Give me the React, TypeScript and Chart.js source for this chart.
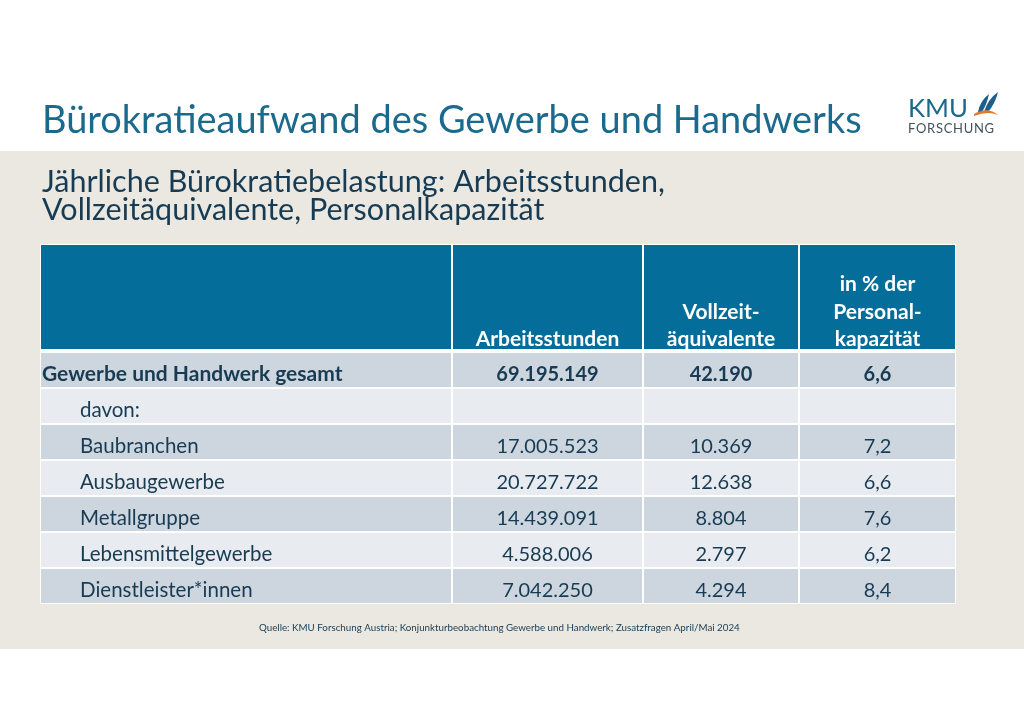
import React, { useEffect, useRef } from 'react';
import { Chart, registerables } from 'chart.js';

Chart.register(...registerables);

// ---------- data ----------
const pageTitle = 'Bürokratieaufwand des Gewerbe und Handwerks';
const subtitleLines = ['Jährliche Bürokratiebelastung: Arbeitsstunden,', 'Vollzeitäquivalente, Personalkapazität'];
const sourceNote =
  'Quelle: KMU Forschung Austria; Konjunkturbeobachtung Gewerbe und Handwerk; Zusatzfragen April/Mai 2024';
const logoWord = 'KMU';
const logoSubWord = 'FORSCHUNG';

const columnHeaders: string[][] = [[], ['Arbeitsstunden'], ['Vollzeit-', 'äquivalente'], ['in % der', 'Personal-', 'kapazität']];
const rowLabels = [
  'Gewerbe und Handwerk gesamt',
  'davon:',
  'Baubranchen',
  'Ausbaugewerbe',
  'Metallgruppe',
  'Lebensmittelgewerbe',
  'Dienstleister*innen',
];
const arbeitsstunden = [69195149, null, 17005523, 20727722, 14439091, 4588006, 7042250];
const vollzeitaequivalente = [42190, null, 10369, 12638, 8804, 2797, 4294];
const personalkapazitaetPct = [6.6, null, 7.2, 6.6, 7.6, 6.2, 8.4];
const totalRowIndex = 0;

// ---------- layout / style ----------
const W = 1024;
const H = 724;
const TABLE = { left: 40, top: 244, right: 956, bottom: 604 };
const colEdges = [0, 412, 603, 759, 916];
const HEADER_SLOTS = 3;
const FONT = 'Lato';
const C = {
  band: '#ebe8e1',
  title: '#1b6a8e',
  text: '#173b52',
  header: '#056d9a',
  dark: '#cdd5df',
  light: '#e8ebf0',
  white: '#ffffff',
  logoGrey: '#44525c',
  logoBlue: '#1d5f8c',
  orange: '#e07b2c',
};

const fmtInt = (n: number) => String(n).replace(/\B(?=(\d{3})+(?!\d))/g, '.');
const fmtPct = (n: number) => n.toFixed(1).replace('.', ',');

function fitFont(ctx: CanvasRenderingContext2D, text: string, weight: string, target: number) {
  ctx.font = `${weight} 100px ${FONT}`;
  const w = ctx.measureText(text).width;
  return (100 * target) / w;
}

const pagePlugin = {
  id: 'pageDecor',
  beforeDraw(chart: any) {
    const ctx = chart.ctx as CanvasRenderingContext2D;
    ctx.save();
    ctx.fillStyle = C.white;
    ctx.fillRect(0, 0, W, H);
    ctx.fillStyle = C.band;
    ctx.fillRect(0, 151, W, 498);

    // title
    ctx.textBaseline = 'alphabetic';
    ctx.textAlign = 'left';
    const ts = fitFont(ctx, pageTitle, 'normal', 820);
    ctx.font = `normal ${ts}px ${FONT}`;
    ctx.fillStyle = C.title;
    ctx.fillText(pageTitle, 42, 133);

    // subtitle
    const ss = fitFont(ctx, subtitleLines[0], 'normal', 623);
    ctx.font = `normal ${ss}px ${FONT}`;
    ctx.fillStyle = C.text;
    subtitleLines.forEach((l, i) => ctx.fillText(l, 42, 192 + i * 28));

    // source
    const qs = fitFont(ctx, sourceNote, 'normal', 481);
    ctx.font = `normal ${qs}px ${FONT}`;
    ctx.fillStyle = C.text;
    ctx.fillText(sourceNote, 259, 631);

    // logo
    const ks = fitFont(ctx, logoWord, 'normal', 60);
    ctx.font = `normal ${ks}px ${FONT}`;
    ctx.fillStyle = C.title;
    ctx.fillText(logoWord, 908, 117);
    ctx.font = `normal 13px ${FONT}`;
    ctx.fillStyle = C.logoGrey;
    const letters = logoSubWord.split('');
    const lw = letters.map((ch) => ctx.measureText(ch).width);
    const sum = lw.reduce((a, b) => a + b, 0);
    const gap = (86 - sum) / (letters.length - 1);
    let lx = 908;
    letters.forEach((ch, i) => {
      ctx.fillText(ch, lx, 133);
      lx += lw[i] + gap;
    });
    // leaves
    ctx.fillStyle = C.logoBlue;
    ctx.beginPath();
    ctx.moveTo(978, 112);
    ctx.quadraticCurveTo(980, 101, 989, 94);
    ctx.quadraticCurveTo(987, 104, 982, 112);
    ctx.closePath();
    ctx.fill();
    ctx.beginPath();
    ctx.moveTo(984, 112);
    ctx.quadraticCurveTo(988, 99, 998, 92);
    ctx.quadraticCurveTo(995, 104, 988, 112);
    ctx.closePath();
    ctx.fill();
    ctx.fillStyle = C.orange;
    ctx.beginPath();
    ctx.moveTo(974, 114);
    ctx.quadraticCurveTo(988, 106, 998, 115);
    ctx.quadraticCurveTo(988, 110.5, 974, 116);
    ctx.closePath();
    ctx.fill();
    ctx.restore();
  },
};

const tableTextPlugin = {
  id: 'tableText',
  afterDatasetsDraw(chart: any) {
    const ctx = chart.ctx as CanvasRenderingContext2D;
    const x = chart.scales.x;
    const y = chart.scales.y;
    ctx.save();
    // header
    ctx.fillStyle = C.white;
    ctx.textAlign = 'center';
    ctx.textBaseline = 'alphabetic';
    ctx.font = `bold 21px ${FONT}`;
    const headerBottom = y.getPixelForValue(HEADER_SLOTS - 1) + 18;
    columnHeaders.forEach((lines, ci) => {
      const cx = (x.getPixelForValue(colEdges[ci]) + x.getPixelForValue(colEdges[ci + 1])) / 2;
      lines.forEach((l, li) => {
        const base = headerBottom - 6 - (lines.length - 1 - li) * 27.5;
        ctx.fillText(l, cx, base);
      });
    });
    // body
    ctx.fillStyle = C.text;
    rowLabels.forEach((label, ri) => {
      const cy = y.getPixelForValue(HEADER_SLOTS + ri) + 10.5;
      const bold = ri === totalRowIndex;
      ctx.font = `${bold ? 'bold 21px' : 'normal 20.5px'} ${FONT}`;
      ctx.textAlign = 'left';
      ctx.fillText(label, x.getPixelForValue(colEdges[0]) + (bold ? 2 : 40), cy);
      ctx.textAlign = 'center';
      ctx.font = `${bold ? 'bold' : 'normal'} 20px ${FONT}`;
      const vals = [
        arbeitsstunden[ri] == null ? '' : fmtInt(arbeitsstunden[ri] as number),
        vollzeitaequivalente[ri] == null ? '' : fmtInt(vollzeitaequivalente[ri] as number),
        personalkapazitaetPct[ri] == null ? '' : fmtPct(personalkapazitaetPct[ri] as number),
      ];
      vals.forEach((v, vi) => {
        const ci = vi + 1;
        const cx = (x.getPixelForValue(colEdges[ci]) + x.getPixelForValue(colEdges[ci + 1])) / 2;
        ctx.fillText(v, cx, cy);
      });
    });
    ctx.restore();
  },
};

export default function App() {
  const ref = useRef<HTMLCanvasElement | null>(null);
  useEffect(() => {
    if (!ref.current) return;
    const labels = Array.from({ length: HEADER_SLOTS }, (_, i) => `header-${i}`).concat(rowLabels);
    const datasets = columnHeaders.map((h, ci) => ({
      label: h.join(' ') || 'Bereich',
      data: labels.map(() => [colEdges[ci], colEdges[ci + 1]]),
      grouped: false,
      barPercentage: 1,
      categoryPercentage: 1,
      borderSkipped: false,
      inflateAmount: 0,
      borderColor: C.white,
      borderWidth: (c: any) => {
        const i = c.dataIndex;
        if (i < HEADER_SLOTS) {
          return {
            left: 1,
            right: 1,
            top: i === 0 ? 1 : 0,
            bottom: i === HEADER_SLOTS - 1 ? 3 : 0,
          };
        }
        return 1;
      },
      backgroundColor: (c: any) => {
        const i = c.dataIndex;
        if (i < HEADER_SLOTS) return C.header;
        return (i - HEADER_SLOTS) % 2 === 0 ? C.dark : C.light;
      },
    }));
    const chart = new Chart(ref.current, {
      type: 'bar',
      data: { labels, datasets: datasets as any },
      options: {
        indexAxis: 'y',
        responsive: false,
        animation: false,
        events: [],
        layout: {
          padding: { left: TABLE.left, top: TABLE.top, right: W - TABLE.right, bottom: H - TABLE.bottom },
        },
        plugins: { legend: { display: false }, tooltip: { enabled: false }, title: { display: false } },
        scales: {
          x: { type: 'linear', min: colEdges[0], max: colEdges[colEdges.length - 1], display: false },
          y: { type: 'category', display: false, offset: true },
        },
      } as any,
      plugins: [pagePlugin, tableTextPlugin],
    });
    return () => chart.destroy();
  }, []);
  return (
    <div style={{ position: 'fixed', left: 0, top: 0, width: W, height: H, background: '#fff' }}>
      <canvas ref={ref} width={W} height={H} style={{ display: 'block', width: W, height: H }} />
    </div>
  );
}
